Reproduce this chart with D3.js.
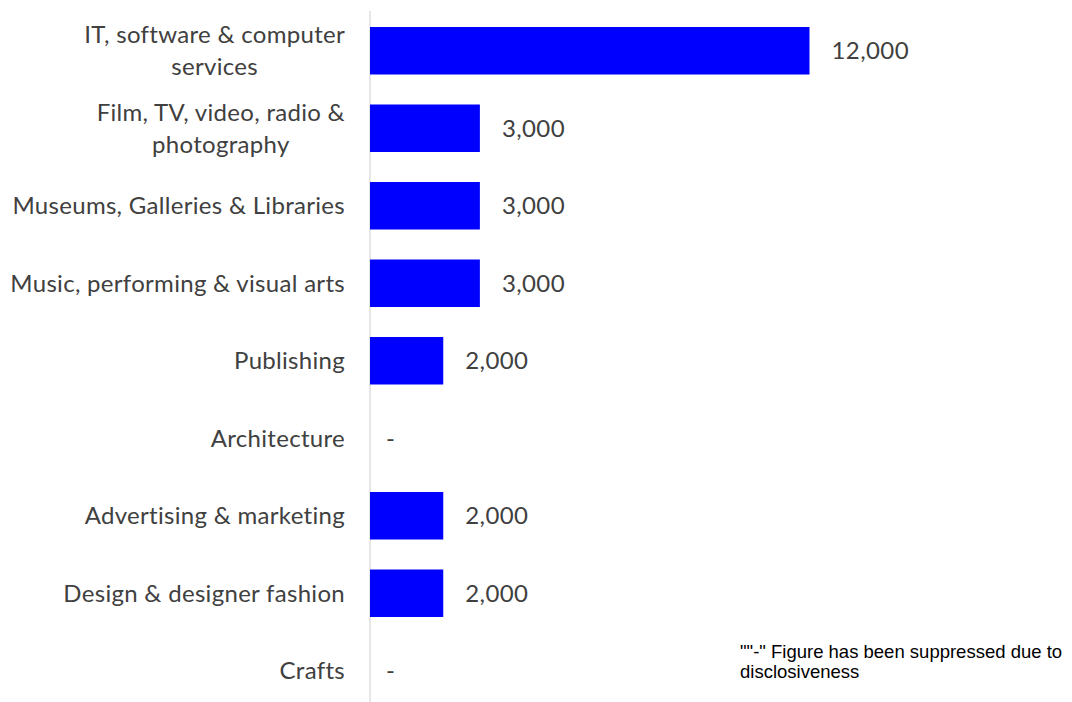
<!DOCTYPE html>
<html>
<head>
<meta charset="utf-8">
<script src="https://cdn.jsdelivr.net/npm/d3@7"></script>
<style>
  body { margin: 0; background: #fff; }
  svg { display: block; }
</style>
</head>
<body>
<div id="chart"></div>
<script>
// data, null = suppressed ("-")
var categories = ["IT, software & computer services", "Film, TV, video, radio & photography",
  "Museums, Galleries & Libraries", "Music, performing & visual arts", "Publishing",
  "Architecture", "Advertising & marketing", "Design & designer fashion", "Crafts"];
var values = [12000, 3000, 3000, 3000, 2000, null, 2000, 2000, null];
var footnote = ["\"\"-\" Figure has been suppressed due to", "disclosiveness"];

var width = 1072, height = 702;
var labelFont = "Lato, 'Open Sans', sans-serif";

var svg = d3.select("#chart").append("svg")
  .attr("width", width)
  .attr("height", height);

var data = categories.map(function(c, i) { return {cat: c, value: values[i]}; });

var x = d3.scaleLinear().domain([0, 12000]).range([370, 809.5]);
var y = d3.scaleBand().domain(categories).range([12, 709.5]).paddingInner(0.387).paddingOuter(0.1935);

// axis line (no ticks)
svg.append("line")
  .attr("x1", x(0)).attr("x2", x(0))
  .attr("y1", 11).attr("y2", 702)
  .attr("stroke", "#d9d9d9").attr("stroke-width", 1.3);

// bars
svg.append("g").selectAll("rect")
  .data(data.filter(function(d) { return d.value != null; }))
  .enter().append("rect")
    .attr("x", x(0))
    .attr("y", function(d) { return y(d.cat); })
    .attr("width", function(d) { return x(d.value) - x(0); })
    .attr("height", y.bandwidth())
    .attr("fill", "#0000ff");

// value labels
svg.append("g").selectAll("text")
  .data(data)
  .enter().append("text")
    .attr("x", function(d) { return (d.value == null ? x(0) + 16 : x(d.value) + 22); })
    .attr("y", function(d) { return y(d.cat) + y.bandwidth() / 2; })
    .attr("dy", "0.35em")
    .style("font-family", labelFont)
    .style("font-size", "24px")
    .style("letter-spacing", "0.4px")
    .attr("fill", "#404040")
    .text(function(d) { return d.value == null ? "-" : d3.format(",")(d.value); });

// category labels, wrapped; block right aligned, lines centred inside it
var catText = svg.append("g").selectAll("text")
  .data(data)
  .enter().append("text")
    .attr("text-anchor", "middle")
    .style("font-family", labelFont)
    .style("font-size", "24px")
    .style("letter-spacing", "0.3px")
    .attr("fill", "#404040");

catText.each(function(d) {
  var el = d3.select(this);
  var words = d.cat.split(" "), lines = [], line = [];
  var probe = el.append("tspan");
  var maxW = 0;
  words.forEach(function(w) {
    line.push(w);
    probe.text(line.join(" "));
    if (probe.node().getComputedTextLength() > 340 && line.length > 1) {
      line.pop();
      lines.push(line.join(" "));
      line = [w];
    }
  });
  lines.push(line.join(" "));
  lines.forEach(function(l) {
    probe.text(l);
    maxW = Math.max(maxW, probe.node().getComputedTextLength());
  });
  probe.remove();
  var lh = 32;
  var cx = 345 - maxW / 2;
  var cy = y(d.cat) + y.bandwidth() / 2 - (lines.length - 1) * lh / 2;
  lines.forEach(function(l, i) {
    el.append("tspan")
      .attr("x", cx)
      .attr("y", cy + i * lh)
      .attr("dy", "0.35em")
      .text(l);
  });
});

// footnote
svg.append("g").selectAll("text")
  .data(footnote)
  .enter().append("text")
    .attr("x", 740)
    .attr("y", function(d, i) { return 658 + i * 20; })
    .style("font-family", "'Liberation Sans', Arial, sans-serif")
    .style("font-size", "18.5px")
    .attr("fill", "#000")
    .text(function(d) { return d; });
</script>
</body>
</html>
